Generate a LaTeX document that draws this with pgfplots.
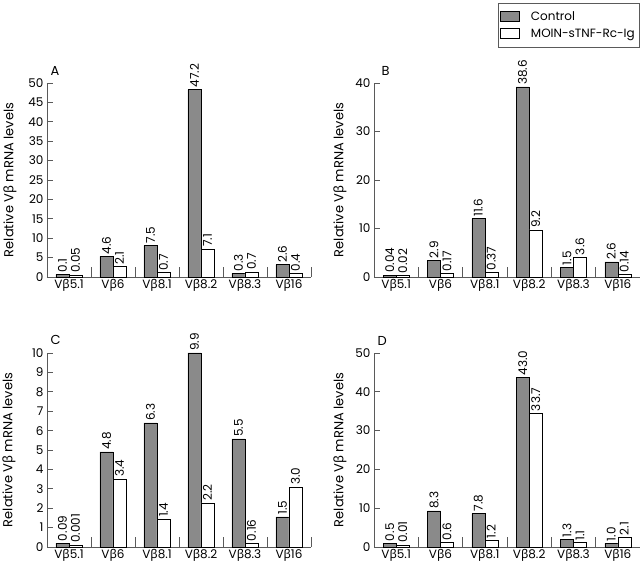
\documentclass[border=0pt]{standalone}
\usepackage{fontspec}
\setmainfont{Poppins}
\newfontfamily\grk{Noto Sans}
\usepackage{pgfplots}
\pgfplotsset{compat=1.18}
\newcommand{\vb}{V{\grk β}}
\newcommand{\fs}{\fontsize{12}{14}\selectfont}
\definecolor{bargray}{RGB}{138,138,138}
\definecolor{axgray}{RGB}{90,90,90}

\pgfplotsset{
  panel/.style={
    scale only axis, width=264pt, height=194pt, anchor=south west,
    ybar=0pt, bar width=13pt,
    xmin=-0.5, xmax=5.5, ymin=0,
    clip=false,
    axis x line*=bottom, axis y line*=left,
    axis line style={draw=axgray, line width=0.8pt},
    tick style={draw=axgray, line width=0.8pt},
    tick align=inside,
    major tick length=6pt, minor tick length=10pt,
    xtick={0,...,5},
    xticklabels={\vb5.1,\vb6,\vb8.1,\vb8.2,\vb8.3,\vb16},
    major x tick style={draw=none},
    minor xtick={0.5,1.5,2.5,3.5,4.5,5.5},
    ticklabel style={font=\fs},
    xticklabel style={yshift=1pt},
    /pgf/number format/assume math mode=true,
    ylabel={Relative \vb{} mRNA levels},
    every axis y label/.style={rotate=90, anchor=center, font=\fontsize{13}{15}\selectfont},
    nodes near coords, point meta=explicit symbolic,
    nodes near coords style={rotate=90, anchor=west, inner sep=1.8pt, font=\fs},
    every axis plot/.append style={draw=black, line width=0.6pt},
    legend image code/.code={\draw[#1] (5pt,-5pt) rectangle (24pt,5pt); \path (33pt,0pt);},
  },
}

\begin{document}
\begin{tikzpicture}
\path[use as bounding box] (0,0) rectangle (640pt,565pt);

% A
\begin{axis}[panel, at={(47pt,288pt)}, ymax=50, ytick={0,5,...,50},
  ylabel style={at={(axis description cs:-0.140,0.5)}}]
  \addplot[fill=bargray] coordinates {(0,0.7)[0.1] (1,5.3)[4.6] (2,8.1)[7.5] (3,48.3)[47.2] (4,0.95)[0.3] (5,3.2)[2.6]};
  \addplot[fill=white] coordinates {(0,0.5)[0.05] (1,2.7)[2.1] (2,1.1)[0.7] (3,7.2)[7.1] (4,1.3)[0.7] (5,0.9)[0.4]};
  \node[anchor=base west, font=\fontsize{13}{15}\selectfont] at (rel axis cs:0,1) [yshift=8pt, xshift=0pt] {A};
\end{axis}

% B
\begin{axis}[panel, at={(374pt,288pt)}, width=266pt, ymax=40, ytick={0,10,...,40},
  ylabel style={at={(axis description cs:-0.128,0.5)}},
  legend style={at={(1,1.186)}, anchor=south east, xshift=-1pt, draw=axgray, fill=white,
    font=\fs, cells={anchor=west}, row sep=3pt,
    inner xsep=2pt, inner ysep=6pt}]
  \addplot[fill=bargray] coordinates {(0,0.4)[0.04] (1,3.4)[2.9] (2,12.0)[11.6] (3,39.2)[38.6] (4,2.0)[1.5] (5,3.1)[2.6]};
  \addlegendentry{Control}
  \addplot[fill=white] coordinates {(0,0.3)[0.02] (1,0.7)[0.17] (2,0.9)[0.37] (3,9.7)[9.2] (4,4.1)[3.6] (5,0.5)[0.14]};
  \addlegendentry{MOIN-sTNF-Rc-Ig}
  \node[anchor=base west, font=\fontsize{13}{15}\selectfont] at (rel axis cs:0,1) [yshift=8pt, xshift=4pt] {B};
\end{axis}

% C
\begin{axis}[panel, at={(47pt,18pt)}, ymax=10, ytick={0,1,...,10},
  ylabel style={at={(axis description cs:-0.144,0.5)}}]
  \addplot[fill=bargray] coordinates {(0,0.2)[0.09] (1,4.9)[4.8] (2,6.4)[6.3] (3,10.0)[9.9] (4,5.57)[5.5] (5,1.55)[1.5]};
  \addplot[fill=white] coordinates {(0,0.1)[0.001] (1,3.5)[3.4] (2,1.44)[1.4] (3,2.27)[2.2] (4,0.2)[0.16] (5,3.1)[3.0]};
  \node[anchor=base west, font=\fontsize{13}{15}\selectfont] at (rel axis cs:0,1) [yshift=8pt, xshift=0pt] {C};
\end{axis}

% D
\begin{axis}[panel, at={(374pt,18pt)}, width=266pt, ymax=50, ytick={0,10,...,50},
  ylabel style={at={(axis description cs:-0.128,0.5)}}]
  \addplot[fill=bargray] coordinates {(0,1.0)[0.5] (1,9.3)[8.3] (2,8.6)[7.8] (3,43.7)[43.0] (4,2.0)[1.3] (5,1.0)[1.0]};
  \addplot[fill=white] coordinates {(0,0.5)[0.01] (1,1.2)[0.6] (2,1.7)[1.2] (3,34.5)[33.7] (4,1.1)[1.1] (5,2.5)[2.1]};
  \node[anchor=base west, font=\fontsize{13}{15}\selectfont] at (rel axis cs:0,1) [yshift=8pt, xshift=0pt] {D};
\end{axis}
\end{tikzpicture}
\end{document}
